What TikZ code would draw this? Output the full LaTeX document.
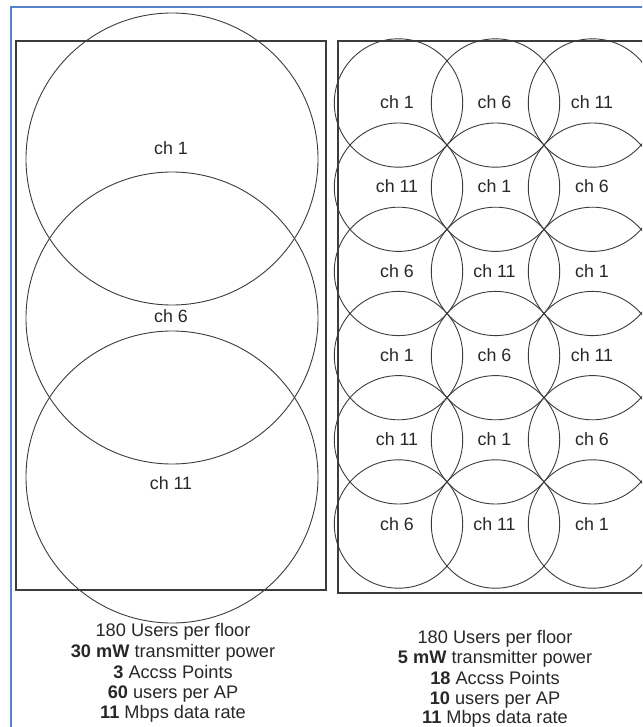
\documentclass[tikz,border=0pt]{standalone}
\usepackage{fontspec}
\setmainfont{Liberation Sans}
\definecolor{framblue}{RGB}{84,130,200}
\definecolor{linegray}{RGB}{60,60,60}
\definecolor{txtgray}{RGB}{40,40,40}
\begin{document}
\begin{tikzpicture}[x=1pt,y=-1pt,
  cell/.style={draw=linegray,line width=0.9pt},
  plan/.style={draw=linegray,line width=1.1pt},
  chlabel/.style={text=txtgray,font=\fontsize{17.8}{20}\selectfont,inner sep=0pt},
  info/.style={text=txtgray,font=\fontsize{18.2}{20}\selectfont,inner sep=0pt,anchor=base}]
\useasboundingbox (0,0) rectangle (642,727);
\clip (0,0) rectangle (642,727);
\fill[white] (0,0) rectangle (642,727);
% outer blue frame (only top and left visible)
\draw[framblue,line width=1.8pt] (11,740) -- (11,7) -- (660,7);
% left plan
\draw[plan] (16,41) rectangle (326,590);
\foreach \cy in {159,318,477} \draw[cell] (172,\cy) circle (146);
\node[chlabel] (l1) at (171,148) {ch 1};
\node[chlabel] (l6) at (171,316) {ch 6};
\node[chlabel] (l11) at (171,483) {ch 11};
% right plan
\draw[plan] (338,41) rectangle (680,593);
\foreach \r in {0,...,5}{
  \foreach \c in {0,1,2}{
    \draw[cell] ({398.5+97*\c},{103+84.2*\r}) circle (64.2);
  }
}
\foreach \lab [count=\i from 0] in {ch 1,ch 6,ch 11,ch 11,ch 1,ch 6,ch 6,ch 11,ch 1,ch 1,ch 6,ch 11,ch 11,ch 1,ch 6,ch 6,ch 11,ch 1}{
  \pgfmathtruncatemacro{\rr}{int(\i/3)}
  \pgfmathtruncatemacro{\cc}{mod(\i,3)}
  \node[chlabel] (g\i) at ({397+97.5*\cc},{102+84.4*\rr}) {\lab};
}
% left info
\node[info] (a1) at (173,636) {180 Users per floor};
\node[info] (a2) at (173,657) {\textbf{30 mW} transmitter power};
\node[info] (a3) at (173,678) {\textbf{3} Accss Points};
\node[info] (a4) at (173,698) {\textbf{60} users per AP};
\node[info] (a5) at (173,718) {\textbf{11} Mbps data rate};
% right info
\node[info] (b1) at (495,643) {180 Users per floor};
\node[info] (b2) at (495,663) {\textbf{5 mW} transmitter power};
\node[info] (b3) at (495,684) {\textbf{18} Accss Points};
\node[info] (b4) at (495,704) {\textbf{10} users per AP};
\node[info] (b5) at (495,723) {\textbf{11} Mbps data rate};
\end{tikzpicture}
\end{document}
